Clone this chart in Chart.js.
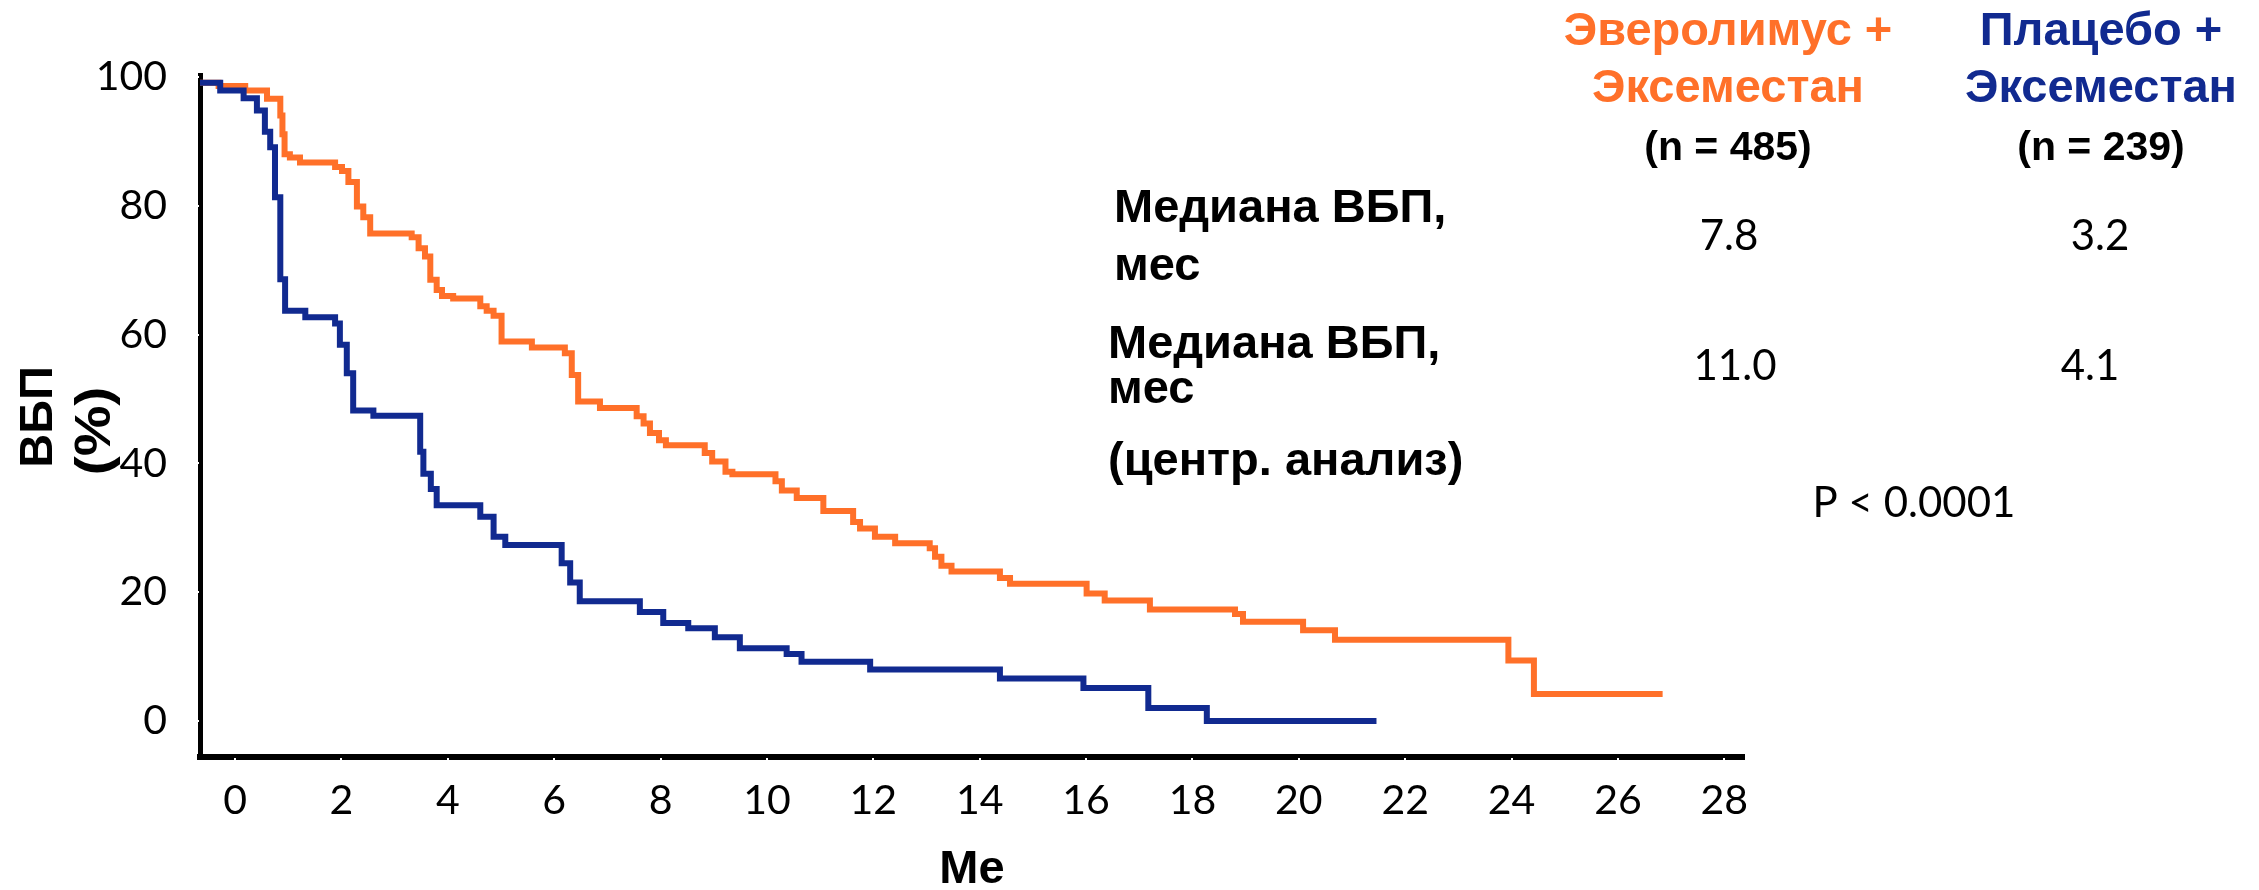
<!DOCTYPE html>
<html lang="ru">
<head>
<meta charset="utf-8">
<title>ВБП: Эверолимус + Эксеместан против Плацебо + Эксеместан</title>
<script src="https://cdn.jsdelivr.net/npm/chart.js@4.4.1/dist/chart.umd.min.js"></script>
<style>
  html, body { margin: 0; padding: 0; background: #ffffff; }
  #wrap { position: relative; width: 2259px; height: 890px; }
  canvas { display: block; }
</style>
</head>
<body>
<div id="wrap"><canvas id="km" width="2259" height="890"></canvas></div>
<script>
// Kaplan–Meier step curves: month where each new level starts, and PFS (%) at that level.
const everolimusMonths = [-0.66, -0.31, 0.19, 0.60, 0.85, 0.89, 0.93, 1.03, 1.22, 1.88,
  2.01, 2.13, 2.29, 2.41, 2.54, 3.32, 3.45, 3.57, 3.67, 3.79,
  3.89, 4.10, 4.61, 4.73, 4.86, 5.01, 5.58, 6.20, 6.33, 6.45,
  6.86, 7.55, 7.68, 7.80, 7.97, 8.10, 8.83, 8.97, 9.22, 9.35,
  10.16, 10.28, 10.56, 11.06, 11.62, 11.75, 12.03, 12.41, 13.06, 13.16,
  13.28, 13.47, 14.38, 14.57, 16.01, 16.35, 17.20, 18.80, 18.95, 20.08,
  20.68, 23.94, 24.42, 26.84];
const everolimusPfs = [99.1, 98.6, 97.9, 96.6, 94.0, 91.1, 88.0, 87.5, 86.7, 86.0,
  85.4, 83.7, 79.9, 78.2, 75.7, 75.1, 73.4, 72.1, 68.5, 66.9,
  66.0, 65.6, 64.4, 63.7, 62.9, 58.9, 58.0, 57.1, 53.7, 49.6,
  48.6, 47.3, 46.2, 44.7, 43.6, 42.8, 41.6, 40.3, 38.7, 38.3,
  37.2, 35.8, 34.6, 32.6, 30.9, 29.9, 28.6, 27.6, 26.8, 25.5,
  24.1, 23.2, 22.2, 21.3, 19.8, 18.7, 17.3, 16.6, 15.4, 14.1,
  12.6, 9.4, 4.2, 4.2];

const placeboMonths = [-0.66, -0.28, 0.16, 0.41, 0.56, 0.66, 0.75, 0.85, 0.94, 1.32,
  1.88, 1.97, 2.10, 2.22, 2.60, 3.48, 3.54, 3.68, 3.79, 4.61,
  4.86, 5.08, 6.14, 6.30, 6.48, 7.61, 8.05, 8.52, 9.02, 9.49,
  10.37, 10.65, 11.94, 14.38, 15.95, 17.17, 18.27, 21.46];
const placeboPfs = [99.1, 97.9, 96.7, 94.8, 91.5, 89.1, 81.3, 68.6, 63.7, 62.7,
  61.7, 58.4, 54.0, 48.2, 47.4, 41.8, 38.4, 36.0, 33.5, 31.7,
  28.6, 27.3, 24.5, 21.5, 18.6, 16.9, 15.2, 14.4, 13.0, 11.3,
  10.4, 9.2, 8.0, 6.6, 5.1, 2.0, 0, 0];

const monthTicks = [0, 2, 4, 6, 8, 10, 12, 14, 16, 18, 20, 22, 24, 26, 28];
const pfsTicks = [0, 20, 40, 60, 80, 100];

// Summary table to the right of the plot
const armNames = [['Эверолимус +', 'Эксеместан'], ['Плацебо +', 'Эксеместан']];
const armSizes = ['(n = 485)', '(n = 239)'];
const medianLocal = ['7.8', '3.2'];
const medianCentral = ['11.0', '4.1'];
const pValue = 'P < 0.0001';

const ORANGE = '#FF7029';
const NAVY = '#112A90';
const BOLD = 'bold 47px "Liberation Sans", Arial, sans-serif';
const NUM = '42px Lato, "Open Sans", sans-serif';

function toPoints(xs, ys) {
  return xs.map((x, i) => ({ x: x, y: ys[i] }));
}

function text(ctx, str, x, y, font, color, align) {
  ctx.font = font;
  ctx.fillStyle = color;
  ctx.textAlign = align || 'left';
  ctx.textBaseline = 'alphabetic';
  ctx.fillText(str, x, y);
}

// Y axis caption and the side table with medians
const sideText = {
  id: 'sideText',
  afterDraw(chart) {
    const ctx = chart.ctx;
    ctx.save();

    // rotated y caption
    ctx.save();
    ctx.translate(52, 417);
    ctx.rotate(-Math.PI / 2);
    text(ctx, 'ВБП', 0, 0, BOLD, '#000', 'center');
    ctx.restore();
    ctx.save();
    ctx.translate(110, 431);
    ctx.rotate(-Math.PI / 2);
    ctx.scale(1.14, 1);
    text(ctx, '(%)', 0, 0, 'bold 50px "Liberation Sans", Arial, sans-serif', '#000', 'center');
    ctx.restore();

    // column headers
    const colX = [1728, 2101];
    const colColor = [ORANGE, NAVY];
    for (let i = 0; i < 2; i++) {
      text(ctx, armNames[i][0], colX[i], 45, BOLD, colColor[i], 'center');
      text(ctx, armNames[i][1], colX[i], 102, BOLD, colColor[i], 'center');
      text(ctx, armSizes[i], colX[i], 160, 'bold 41px "Liberation Sans", Arial, sans-serif', '#000', 'center');
    }

    // row labels
    text(ctx, 'Медиана ВБП,', 1114, 222, BOLD, '#000');
    text(ctx, 'мес', 1114, 280, BOLD, '#000');
    text(ctx, 'Медиана ВБП,', 1108, 358, BOLD, '#000');
    text(ctx, 'мес', 1108, 403, BOLD, '#000');
    text(ctx, '(центр. анализ)', 1108, 475, BOLD, '#000');

    // values
    text(ctx, medianLocal[0], 1729, 250, NUM, '#000', 'center');
    text(ctx, medianLocal[1], 2100, 250, NUM, '#000', 'center');
    text(ctx, medianCentral[0], 1735, 380, NUM, '#000', 'center');
    text(ctx, medianCentral[1], 2090, 380, NUM, '#000', 'center');
    text(ctx, pValue, 1914, 517, NUM, '#000', 'center');

    // small white notches on the axis lines at each tick
    const xs = chart.scales.x, ys = chart.scales.y;
    const area = chart.chartArea;
    ctx.fillStyle = '#ffffff';
    pfsTicks.forEach(v => {
      const py = Math.round(ys.getPixelForValue(v));
      ctx.fillRect(area.left - 3, py - 1, 2, 2);
    });
    monthTicks.forEach(v => {
      const px = Math.round(xs.getPixelForValue(v));
      ctx.fillRect(px - 1, area.bottom + 1, 2, 2);
    });
    ctx.restore();
  }
};

function build() {
  const ctx = document.getElementById('km').getContext('2d');
  new Chart(ctx, {
    type: 'line',
    data: {
      datasets: [
        {
          label: 'Плацебо + Эксеместан',
          data: toPoints(placeboMonths, placeboPfs),
          borderColor: NAVY,
          borderWidth: 6,
          stepped: true,
          pointRadius: 0,
          fill: false,
          borderJoinStyle: 'miter',
          borderCapStyle: 'butt'
        },
        {
          label: 'Эверолимус + Эксеместан',
          data: toPoints(everolimusMonths, everolimusPfs),
          borderColor: ORANGE,
          borderWidth: 6,
          stepped: true,
          pointRadius: 0,
          fill: false,
          borderJoinStyle: 'miter',
          borderCapStyle: 'butt'
        }
      ]
    },
    options: {
      responsive: false,
      animation: false,
      devicePixelRatio: 1,
      layout: { padding: { left: 0, top: 75, right: 515, bottom: 0 } },
      plugins: { legend: { display: false }, tooltip: { enabled: false } },
      scales: {
        x: {
          type: 'linear',
          min: -0.66,
          max: 28.37,
          afterFit: s => { s.height = 133; },
          afterBuildTicks: s => { s.ticks = monthTicks.map(v => ({ value: v })); },
          grid: { display: false, drawTicks: false },
          border: { display: true, color: '#000', width: 6 },
          ticks: {
            autoSkip: false, maxRotation: 0, padding: 19, color: '#000',
            font: { family: 'Lato, "Open Sans", sans-serif', size: 41 },
            callback: v => String(v)
          },
          title: {
            display: true, text: 'Ме', color: '#000', padding: 0,
            font: { family: '"Liberation Sans", Arial, sans-serif', size: 47, weight: 'bold', lineHeight: 0.86 }
          }
        },
        y: {
          type: 'linear',
          min: -5.6,
          max: 100.3,
          afterFit: s => { s.width = 200; },
          afterBuildTicks: s => { s.ticks = pfsTicks.map(v => ({ value: v })); },
          grid: { display: false, drawTicks: false },
          border: { display: true, color: '#000', width: 5 },
          ticks: {
            padding: 33, color: '#000',
            font: { family: 'Lato, "Open Sans", sans-serif', size: 41 },
            callback: v => String(v)
          }
        }
      }
    },
    plugins: [sideText]
  });
}

const fontLoads = [
  document.fonts.load('41px Lato'),
  document.fonts.load('bold 47px "Liberation Sans"')
];
Promise.all(fontLoads).then(build, build);
</script>
</body>
</html>
